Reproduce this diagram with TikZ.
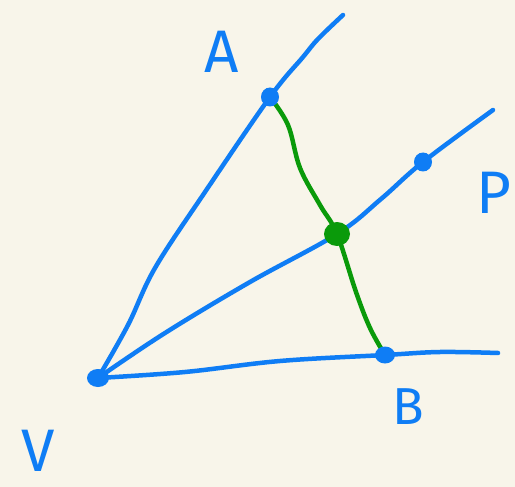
\documentclass[tikz,border=0pt]{standalone}
\usepackage{fontspec}
\setmainfont{Fira Sans}
\definecolor{bg}{HTML}{F8F5EA}
\definecolor{penblue}{HTML}{0F7DF5}
\definecolor{pengreen}{HTML}{0A9A0A}
\begin{document}
\begin{tikzpicture}[x=1pt,y=-1pt,
  pen/.style={line width=4.5pt,line cap=round,line join=round},
  bline/.style={pen,draw=penblue},
  gline/.style={pen,draw=pengreen},
  lbl/.style={text=penblue,font=\fontsize{60}{60}\selectfont,inner sep=0pt}]
\fill[bg] (0,0) rectangle (515,487);
\useasboundingbox (0,0) rectangle (515,487);
\coordinate (V) at (98,378);
\coordinate (A) at (270,97);
\coordinate (M) at (337,234);
\coordinate (P) at (423,162);
\coordinate (B) at (385,355);
\coordinate (Aend) at (343,15);
\coordinate (Pend) at (493,110);
\coordinate (Bend) at (498,353);
% lines
\draw[bline] plot[smooth,tension=0.6] coordinates {(V) (128,325) (155,268) (205,192) (A) (303,57) (318,39) (Aend)};
\draw[bline] plot[smooth,tension=0.6] coordinates {(V) (165,333) (250,282) (M) (381,199) (P) (Pend)};
\draw[bline] plot[smooth,tension=0.6] coordinates {(V) (185,372) (280,361) (B) (440,352) (Bend)};
\draw[gline] plot[smooth,tension=0.6] coordinates {(A) (288,125) (300,168) (320,205) (M) (356,292) (370,328) (B)};
% dots
\fill[penblue] (V) ellipse (11 and 9);
\fill[penblue] (A) ellipse (9 and 9.5);
\fill[penblue] (P) ellipse (9 and 9.5);
\fill[penblue] (B) ellipse (10 and 8.5);
\fill[pengreen] (M) ellipse (13 and 12);
% labels
\node[lbl] (la) at (222,52) {A};
\node[lbl] (lp) at (494,193) {P};
\node[lbl,font=\fontsize{52}{52}\selectfont] (lb) at (408,407) {B};
\node[lbl] (lv) at (38,451) {V};
\end{tikzpicture}
\end{document}
